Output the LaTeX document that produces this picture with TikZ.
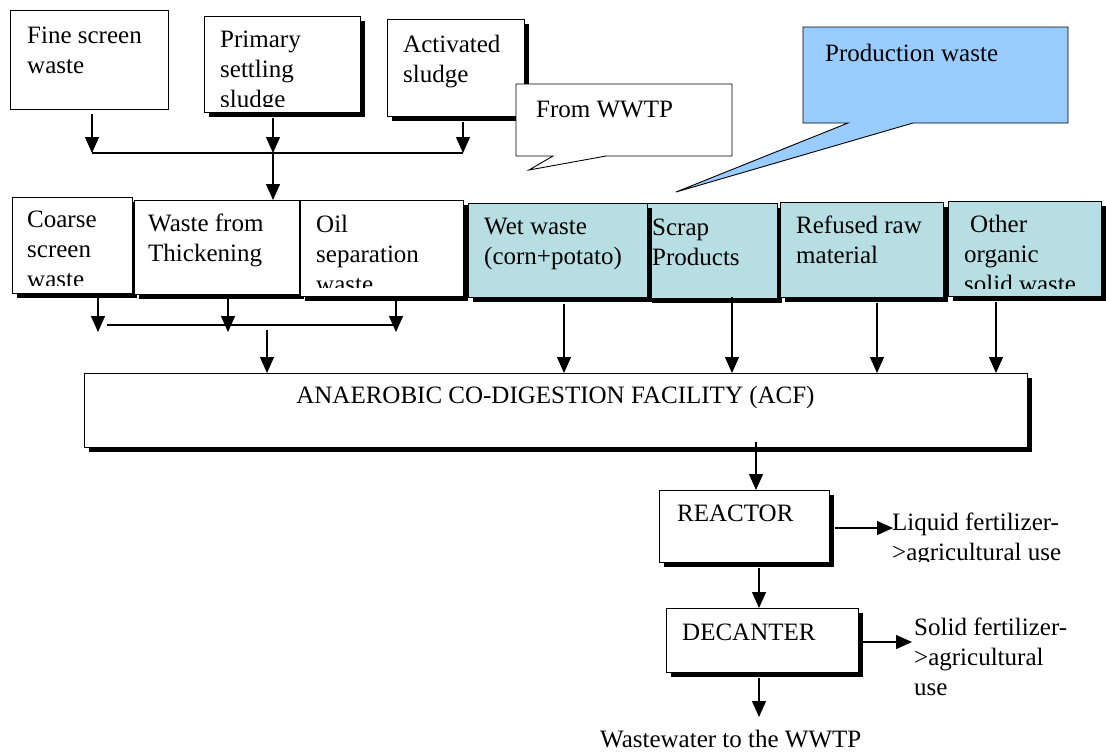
\documentclass[tikz,border=0pt]{standalone}
\usepackage{fontspec}
\setmainfont{Liberation Serif}
\usetikzlibrary{arrows.meta,shadows}
\definecolor{feedteal}{RGB}{183,222,226}
\definecolor{calloutblue}{RGB}{153,204,255}
% invisible strut that fixes the height of a first text line
\newcommand{\capstrut}{\rule{0pt}{20pt}}
\begin{document}
\begin{tikzpicture}[x=1pt,y=-1pt,
  lbl/.style={anchor=north west, inner sep=0pt, align=left, font=\fontsize{25}{30}\selectfont},
  box/.style={draw=black, line width=0.9pt, fill=white, anchor=north west, inner sep=0pt},
  shadowed/.style={drop shadow={opacity=1, fill=black, shadow xshift=5pt, shadow yshift=-5pt}},
  feed/.style={box, shadowed, fill=feedteal},
  flow/.style={line width=1.3pt, -{Triangle[length=16pt,width=14pt]}},
  rail/.style={line width=1.3pt},
  callout/.style={draw=black, line width=0.9pt, line join=miter}]
\useasboundingbox (0,0) rectangle (1106,753);

% ---------- wastewater treatment sources ----------
\node[box, minimum width=158pt, minimum height=99pt] (fine) at (10,10) {};
\node[lbl] (finetxt) at (27,23) {\capstrut Fine screen\\waste};

\node[box, shadowed, minimum width=156pt, minimum height=96pt] (primary) at (204,16) {};
\begin{scope}
  \clip (204,16) rectangle (360,106);
  \node[lbl] (primarytxt) at (220,27) {\capstrut Primary\\settling\\sludge};
\end{scope}

\node[box, shadowed, minimum width=137pt, minimum height=97pt] (activated) at (387,19) {};
\node[lbl] (activatedtxt) at (403,32) {\capstrut Activated\\sludge};

% callouts
\draw[callout, fill=white] (516,84) -- (732,84) -- (732,156) -- (606,156) -- (529,170) -- (553,156) -- (516,156) -- cycle;
\node[lbl] (wwtptxt) at (536,97) {\capstrut From WWTP};
\draw[callout, fill=calloutblue] (803,27) -- (1068,27) -- (1068,123) -- (913,123) -- (676,192) -- (848,123) -- (803,123) -- cycle;
\node[lbl] (prodtxt) at (825,41) {\capstrut Production waste};

% ---------- second row ----------
\node[box, shadowed, minimum width=120pt, minimum height=96pt] (coarse) at (12,197) {};
\begin{scope}
  \clip (12,197) rectangle (132,285);
  \node[lbl] (coarsetxt) at (27,207) {\capstrut Coarse\\screen\\waste};
\end{scope}

\node[box, shadowed, minimum width=165pt, minimum height=94pt] (thick) at (134,200) {};
\node[lbl] (thicktxt) at (148,211) {\capstrut Waste from\\Thickening};

\node[box, shadowed, minimum width=163pt, minimum height=96pt] (oil) at (300,200) {};
\begin{scope}
  \clip (300,200) rectangle (463,287);
  \node[lbl] (oiltxt) at (316,212) {\capstrut Oil\\separation\\waste};
\end{scope}

\node[feed, minimum width=130pt, minimum height=95pt] (scrap) at (647,203) {};
\node[feed, minimum width=179pt, minimum height=94pt] (wet) at (468,203) {};
\node[lbl] (wettxt) at (484,214) {\capstrut Wet waste\\(corn+potato)};
\node[lbl] (scraptxt) at (652,215) {\capstrut Scrap\\Products};

\node[feed, minimum width=163pt, minimum height=95pt] (refused) at (780,202) {};
\node[lbl] (refusedtxt) at (796,213) {\capstrut Refused raw\\material};

\node[feed, minimum width=153pt, minimum height=95pt] (other) at (948,201) {};
\begin{scope}
  \clip (948,201) rectangle (1101,288);
  \node[lbl] (othertxt) at (964,212) {\capstrut\hspace*{6pt}Other\\organic\\solid waste};
\end{scope}

% ---------- digestion line ----------
\node[box, shadowed, minimum width=943pt, minimum height=74pt] (acf) at (84,373) {};
\node[inner sep=0pt, anchor=base, font=\fontsize{25}{30}\selectfont] (acftxt) at (555.5,403) {ANAEROBIC CO-DIGESTION FACILITY (ACF)};

\node[box, shadowed, minimum width=170pt, minimum height=72pt] (reactor) at (659,490) {};
\node[lbl] (reactortxt) at (677,501) {\capstrut REACTOR};

\node[box, shadowed, minimum width=192pt, minimum height=64pt] (decanter) at (666,608) {};
\node[lbl] (decantertxt) at (682,620) {\capstrut DECANTER};

\begin{scope}
  \clip (880,490) rectangle (1106,561);
  \node[lbl] (liquidtxt) at (892,510) {\capstrut Liquid fertilizer-\\>agricultural use};
\end{scope}
\node[lbl] (solidtxt) at (914,615) {\capstrut Solid fertilizer-\\>agricultural\\use};
\node[lbl] (wwtxt) at (600,727) {\capstrut Wastewater to the WWTP};

% ---------- connectors, first collector ----------
\coordinate (t1) at (92,153);
\coordinate (t2) at (273,153);
\coordinate (t3) at (463,153);
\draw[flow] (fine.south -| t1) ++(0,4) -- (t1);
\draw[flow] (primary.south -| t2) ++(0,5) -- (t2);
\draw[flow] (activated.south -| t3) ++(0,5) -- (t3);
\draw[rail] (t1) -- (t3);
\draw[flow] (t2) -- (thick.north -| t2);

% ---------- connectors, second collector ----------
\coordinate (u1) at (98,332);
\coordinate (u2) at (228,332);
\coordinate (u3) at (396,332);
\coordinate (l1) at (107,325);
\coordinate (l2) at (396,325);
\coordinate (c1) at (267,330);
\draw[flow] (coarse.south -| u1) ++(0,4) -- (u1);
\draw[flow] (thick.south -| u2) -- (u2);
\draw[flow] (oil.south -| u3) ++(0,4) -- (u3);
\draw[rail] (l1) -- (l2);
\draw[flow] (c1) -- (acf.north -| c1);

% ---------- production feeds ----------
\coordinate (a1) at (564,373);
\coordinate (a2) at (732,373);
\coordinate (a3) at (877,373);
\coordinate (a4) at (996,373);
\draw[flow] (wet.south -| a1) ++(0,6) -- (a1);
\draw[flow] (scrap.south -| a2) ++(0,-2) -- (a2);
\draw[flow] (refused.south -| a3) ++(0,5) -- (a3);
\draw[flow] (other.south -| a4) ++(0,5) -- (a4);

% ---------- outputs ----------
\coordinate (r1) at (756,442);
\coordinate (lq) at (893,528);
\coordinate (d1) at (759,608);
\coordinate (sq) at (912,642);
\coordinate (ww) at (759,717);
\draw[flow] (r1) -- (reactor.north -| r1);
\draw[flow] (reactor.east |- lq) ++(5,0) -- (lq);
\draw[flow] (reactor.south -| d1) ++(0,5) -- (d1);
\draw[flow] (decanter.east |- sq) -- (sq);
\draw[flow] (decanter.south -| ww) ++(0,5) -- (ww);
\end{tikzpicture}
\end{document}
